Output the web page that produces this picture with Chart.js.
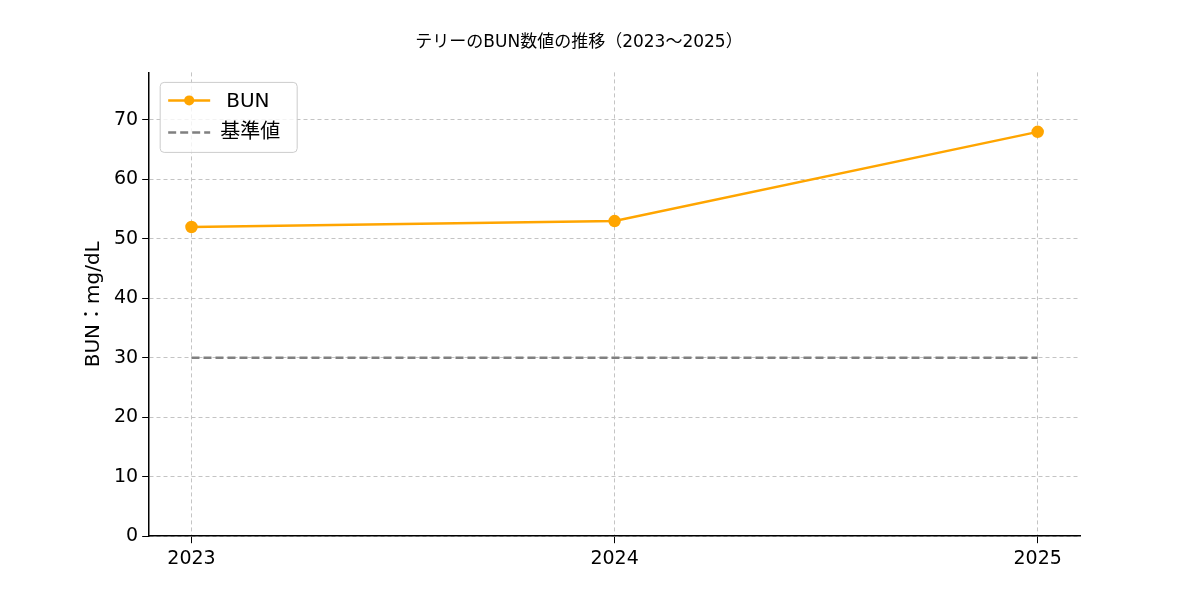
<!DOCTYPE html>
<html><head><meta charset="utf-8">
<script src="https://cdn.jsdelivr.net/npm/chart.js@4/dist/chart.umd.min.js"></script>
<style>body{margin:0;background:#fff}#wrap{width:1200px;height:600px}</style>
</head><body><div id="wrap"><canvas id="c" width="1200" height="600"></canvas></div>
<script>
const years = [2023, 2024, 2025];
const bun = [52, 53, 68];
const baseline = [30, 30, 30];
const yTicks = [0, 10, 20, 30, 40, 50, 60, 70];
const FONT = "'DejaVu Sans', 'Noto Sans CJK JP', sans-serif";

// legend box inside plot, top-left
const innerLegend = {
  id: 'innerLegend',
  afterDraw(chart) {
    const {ctx, chartArea: a} = chart;
    const x = a.left + 11, y = a.top + 10, w = 137, h = 70;
    ctx.save();
    ctx.fillStyle = 'rgba(255,255,255,0.8)';
    ctx.strokeStyle = '#cccccc';
    ctx.lineWidth = 1;
    ctx.beginPath(); ctx.roundRect(x, y, w, h, 4); ctx.fill(); ctx.stroke();
    ctx.font = '20px ' + FONT; ctx.textBaseline = 'middle'; ctx.fillStyle = '#000';
    ctx.strokeStyle = '#FFA500'; ctx.lineWidth = 2.5;
    ctx.beginPath(); ctx.moveTo(x + 8, y + 18); ctx.lineTo(x + 50, y + 18); ctx.stroke();
    ctx.fillStyle = '#FFA500';
    ctx.beginPath(); ctx.arc(x + 29, y + 18, 5, 0, Math.PI * 2); ctx.fill();
    ctx.fillStyle = '#000'; ctx.fillText('BUN', x + 66, y + 19);
    ctx.strokeStyle = '#808080'; ctx.setLineDash([8, 4]);
    ctx.beginPath(); ctx.moveTo(x + 8, y + 50); ctx.lineTo(x + 50, y + 50); ctx.stroke();
    ctx.setLineDash([]);
    ctx.fillText('基準値', x + 60, y + 50);
    ctx.restore();
  }
};

new Chart(document.getElementById('c'), {
  type: 'line',
  data: {
    datasets: [
      { label: 'BUN', data: years.map((yr, i) => ({x: yr, y: bun[i]})),
        borderColor: '#FFA500', backgroundColor: '#FFA500', borderWidth: 2.5,
        pointRadius: 5, pointHoverRadius: 5 },
      { label: '基準値', data: years.map((yr, i) => ({x: yr, y: baseline[i]})),
        borderColor: '#808080', borderWidth: 2.5, borderDash: [8, 4], pointRadius: 0 }
    ]
  },
  plugins: [innerLegend],
  options: {
    responsive: false, animation: false,
    layout: { padding: { left: 78, right: 120, top: 14, bottom: 26 } },
    plugins: {
      legend: { display: false }, tooltip: { enabled: false },
      title: { display: true, text: 'テリーのBUN数値の推移（2023〜2025）', color: '#000',
        font: { family: FONT, size: 17, weight: 'normal' }, padding: { top: 18, bottom: 20 } }
    },
    scales: {
      x: {
        type: 'linear', min: 2022.9, max: 2025.1,
        afterBuildTicks: s => { s.ticks = years.map(v => ({value: v})); },
        ticks: { color: '#000', font: { family: FONT, size: 19 }, callback: v => String(v), padding: 4 },
        grid: { color: '#c4c4c4', tickColor: '#000', tickLength: 7 },
        border: { color: '#000', width: 1.5, dash: [4, 3] }
      },
      y: {
        min: 0, max: 78,
        afterBuildTicks: s => { s.ticks = yTicks.map(v => ({value: v})); },
        ticks: { color: '#000', font: { family: FONT, size: 19 }, padding: 4 },
        grid: { color: '#c4c4c4', tickColor: '#000', tickLength: 7 },
        border: { color: '#000', width: 1.5, dash: [4, 3] },
        title: { display: true, text: 'BUN：mg/dL', color: '#000', font: { family: FONT, size: 20 } }
      }
    }
  }
});
</script></body></html>
